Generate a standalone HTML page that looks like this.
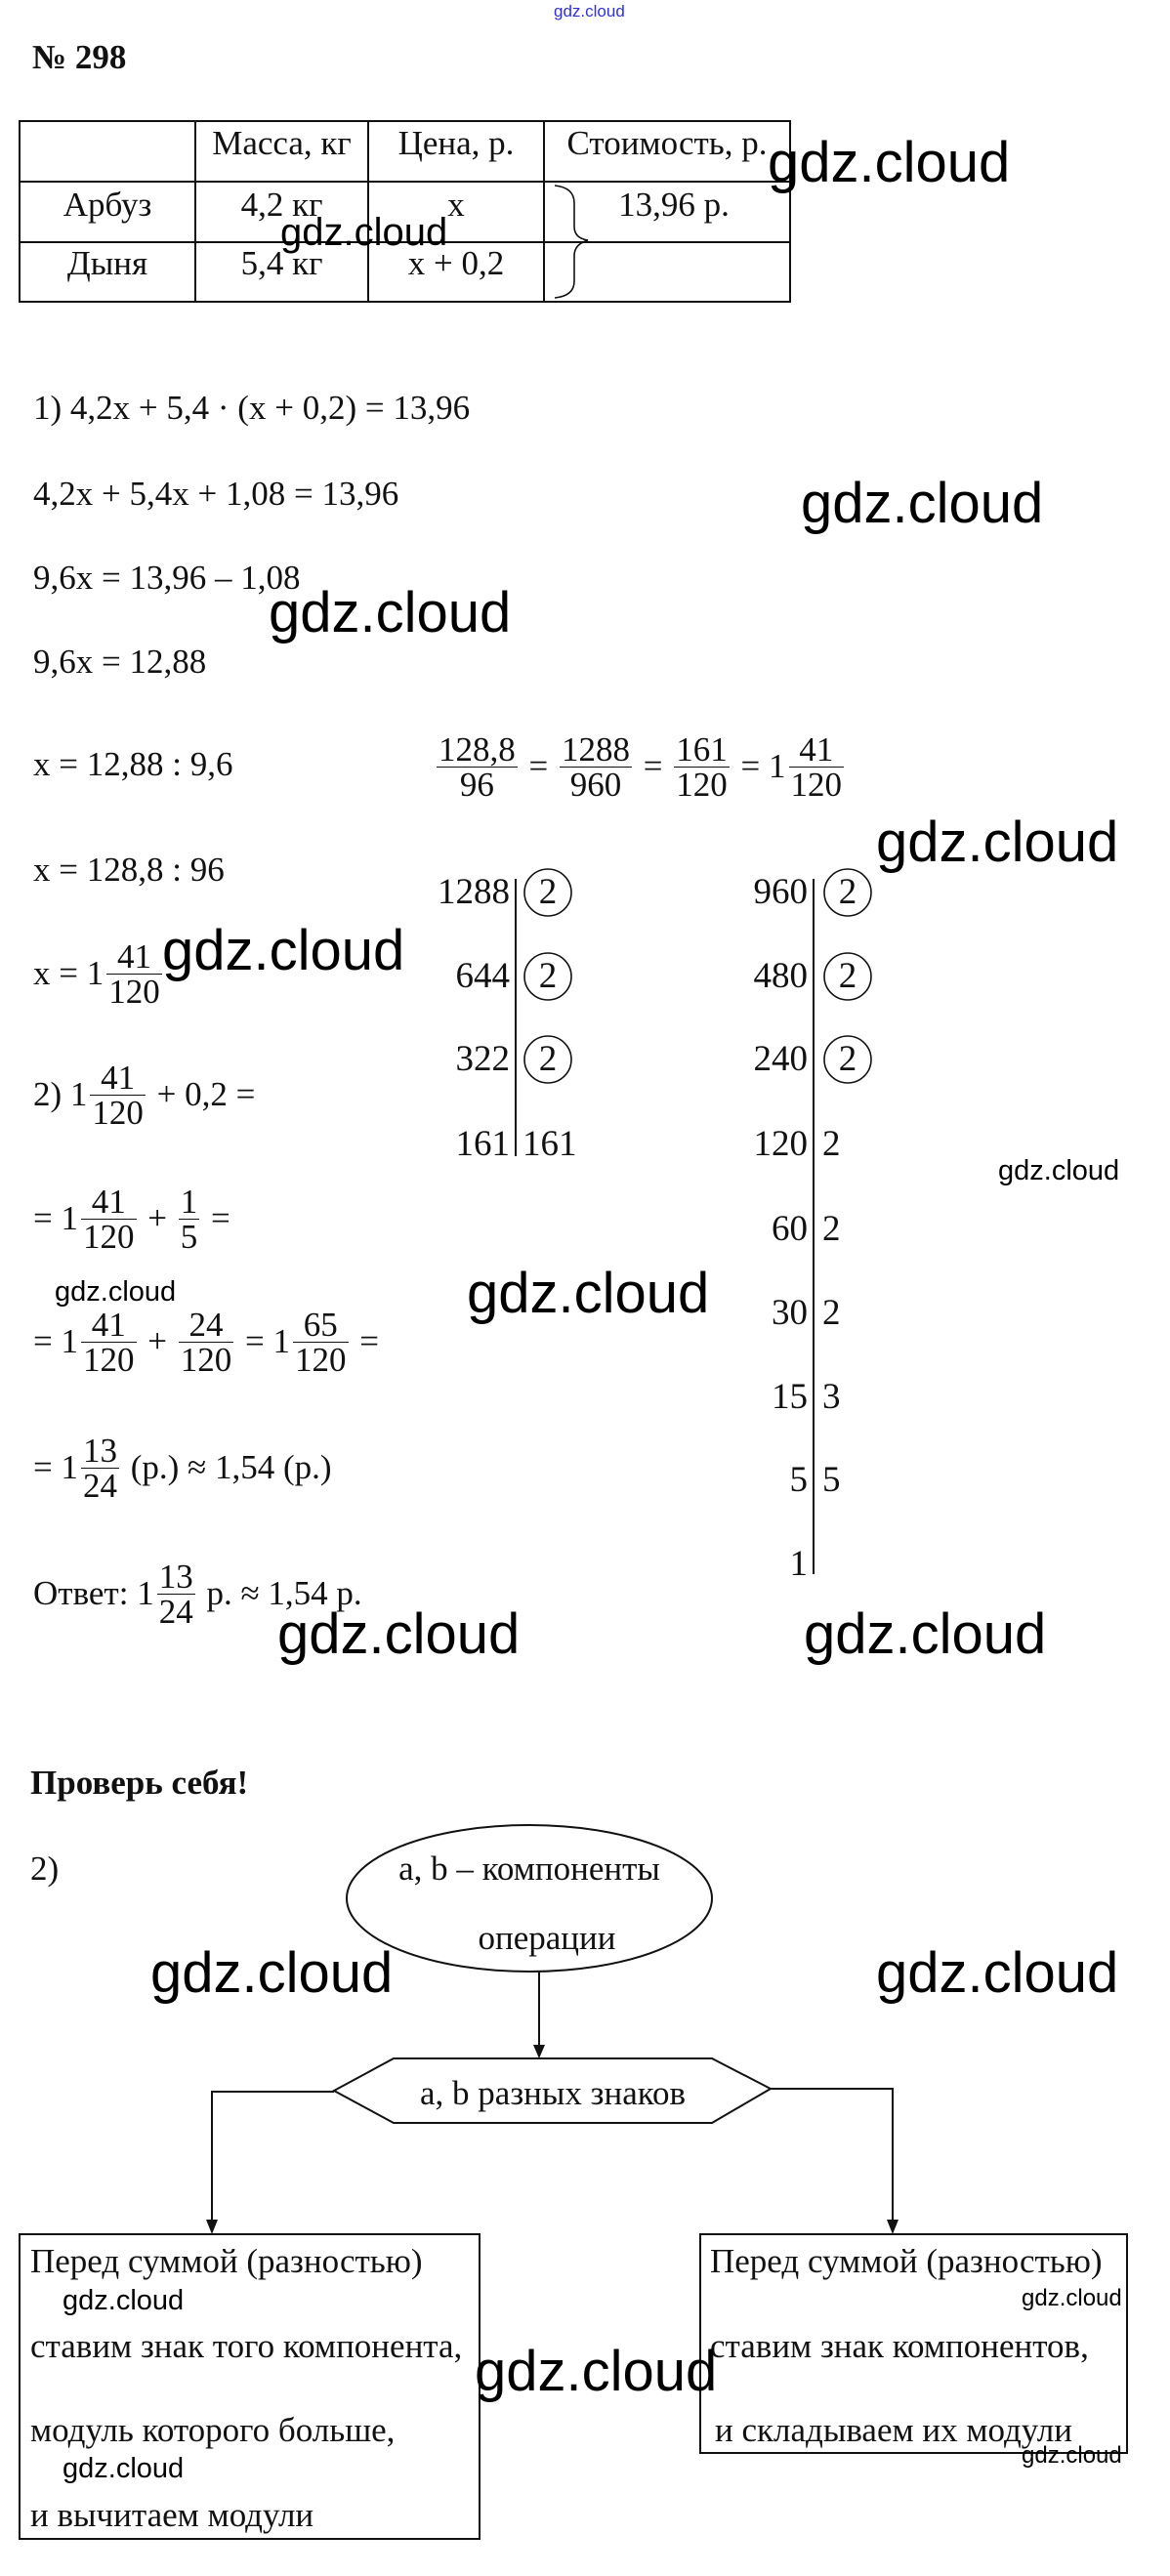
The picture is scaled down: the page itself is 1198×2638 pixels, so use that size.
<!DOCTYPE html>
<html><head><meta charset="utf-8">
<style>
html,body{margin:0;padding:0;background:#fff}
body{width:1198px;height:2638px;position:relative;overflow:hidden;font-family:"Liberation Serif",serif;color:#111}
.t{position:absolute;font-size:35px;line-height:40px;white-space:nowrap}
.b{font-weight:bold}
.w{position:absolute;font-family:"Liberation Sans",sans-serif;line-height:1;white-space:nowrap;color:#000}
.fr{display:inline-block;vertical-align:middle;text-align:center;margin:0 3px}
.fr span{display:block;line-height:35px;padding:0 2px}
.fr span.d{border-top:1.6px solid #111}
.ln{position:absolute;display:flex;align-items:center;font-size:35px;white-space:nowrap;height:80px}
.n{position:absolute;font-size:37px;line-height:40px;text-align:right;width:90px}
.c{text-align:center}
</style></head><body>
<svg width="1198" height="2638" style="position:absolute;left:0;top:0" xmlns="http://www.w3.org/2000/svg">
<g stroke="#111" stroke-width="2" fill="none">
<rect x="20" y="124" width="789" height="185"/>
<line x1="20" y1="186" x2="809" y2="186"/>
<line x1="20" y1="248" x2="809" y2="248"/>
<line x1="200" y1="124" x2="200" y2="309"/>
<line x1="377" y1="124" x2="377" y2="309"/>
<line x1="557" y1="124" x2="557" y2="309"/>
<path d="M568 190 Q588 192 588 208 L588 232 Q588 244 602 246 Q588 250 588 262 L588 288 Q588 303 568 305" stroke-width="1.6"/>
<line x1="528" y1="900" x2="528" y2="1184"/>
<line x1="833" y1="900" x2="833" y2="1612"/>
<circle cx="561" cy="914" r="24" stroke-width="1.6"/>
<circle cx="561" cy="1000" r="24" stroke-width="1.6"/>
<circle cx="561" cy="1085" r="24" stroke-width="1.6"/>
<circle cx="868" cy="914" r="24" stroke-width="1.6"/>
<circle cx="868" cy="1000" r="24" stroke-width="1.6"/>
<circle cx="868" cy="1085" r="24" stroke-width="1.6"/>
<ellipse cx="542" cy="1944" rx="187" ry="75"/>
<line x1="552" y1="2019" x2="552" y2="2096"/>
<polygon points="342,2141 403,2108 729,2108 789,2139 729,2174 403,2174"/>
<polyline points="342,2142 217,2142 217,2275"/>
<polyline points="789,2139 914,2139 914,2275"/>
<rect x="20" y="2288" width="471" height="312"/>
<rect x="717" y="2288" width="437" height="224"/>
</g>
<g fill="#111">
<polygon points="546,2094 558,2094 552,2108"/>
<polygon points="211,2273 223,2273 217,2288"/>
<polygon points="908,2273 920,2273 914,2288"/>
</g>
</svg>

<div class="w" style="left:567px;top:3px;font-size:17px;color:#33c">gdz.cloud</div>
<div class="t b" style="left:33px;top:39px">№ 298</div>

<div class="t c" style="left:200px;top:127px;width:177px">Масса, кг</div>
<div class="t c" style="left:377px;top:127px;width:180px">Цена, р.</div>
<div class="t c" style="left:557px;top:127px;width:252px">Стоимость, р.</div>
<div class="t c" style="left:20px;top:190px;width:180px">Арбуз</div>
<div class="t c" style="left:200px;top:190px;width:177px">4,2 кг</div>
<div class="t c" style="left:377px;top:190px;width:180px">x</div>
<div class="t c" style="left:580px;top:190px;width:220px">13,96 р.</div>
<div class="t c" style="left:20px;top:250px;width:180px">Дыня</div>
<div class="t c" style="left:200px;top:250px;width:177px">5,4 кг</div>
<div class="t c" style="left:377px;top:250px;width:180px">x + 0,2</div>

<div class="t" style="left:34px;top:398px">1) 4,2x + 5,4 · (x + 0,2) = 13,96</div>
<div class="t" style="left:34px;top:486px">4,2x + 5,4x + 1,08 = 13,96</div>
<div class="t" style="left:34px;top:572px">9,6x = 13,96 – 1,08</div>
<div class="t" style="left:34px;top:658px">9,6x = 12,88</div>
<div class="t" style="left:34px;top:763px">x = 12,88 : 9,6</div>
<div class="t" style="left:34px;top:871px">x = 128,8 : 96</div>

<div class="ln" style="left:34px;top:957px">x = 1<span class="fr"><span>41</span><span class="d">120</span></span></div>
<div class="ln" style="left:34px;top:1081px">2) 1<span class="fr"><span>41</span><span class="d">120</span></span>&nbsp;+ 0,2 =</div>
<div class="ln" style="left:34px;top:1208px">= 1<span class="fr"><span>41</span><span class="d">120</span></span>&nbsp;+&nbsp;<span class="fr"><span>1</span><span class="d">5</span></span>&nbsp;=</div>
<div class="ln" style="left:34px;top:1334px">= 1<span class="fr"><span>41</span><span class="d">120</span></span>&nbsp;+&nbsp;<span class="fr"><span>24</span><span class="d">120</span></span>&nbsp;= 1<span class="fr"><span>65</span><span class="d">120</span></span>&nbsp;=</div>
<div class="ln" style="left:34px;top:1463px">= 1<span class="fr"><span>13</span><span class="d">24</span></span>&nbsp;(р.) ≈ 1,54 (р.)</div>
<div class="ln" style="left:34px;top:1592px">Ответ: 1<span class="fr"><span>13</span><span class="d">24</span></span>&nbsp;р. ≈ 1,54 р.</div>

<div class="ln" style="left:444px;top:745px;font-size:35px"><span class="fr"><span>128,8</span><span class="d">96</span></span>&nbsp;=&nbsp;<span class="fr"><span>1288</span><span class="d">960</span></span>&nbsp;=&nbsp;<span class="fr"><span>161</span><span class="d">120</span></span>&nbsp;= 1<span class="fr"><span>41</span><span class="d">120</span></span></div>

<div class="n" style="left:432px;top:894px">1288</div>
<div class="n" style="left:432px;top:980px">644</div>
<div class="n" style="left:432px;top:1065px">322</div>
<div class="n" style="left:432px;top:1152px">161</div>
<div class="n" style="left:549px;top:894px;width:24px;text-align:center">2</div>
<div class="n" style="left:549px;top:980px;width:24px;text-align:center">2</div>
<div class="n" style="left:549px;top:1065px;width:24px;text-align:center">2</div>
<div class="n" style="left:535px;top:1152px;text-align:left">161</div>

<div class="n" style="left:737px;top:894px">960</div>
<div class="n" style="left:737px;top:980px">480</div>
<div class="n" style="left:737px;top:1065px">240</div>
<div class="n" style="left:737px;top:1152px">120</div>
<div class="n" style="left:737px;top:1239px">60</div>
<div class="n" style="left:737px;top:1325px">30</div>
<div class="n" style="left:737px;top:1411px">15</div>
<div class="n" style="left:737px;top:1496px">5</div>
<div class="n" style="left:737px;top:1582px">1</div>
<div class="n" style="left:856px;top:894px;width:24px;text-align:center">2</div>
<div class="n" style="left:856px;top:980px;width:24px;text-align:center">2</div>
<div class="n" style="left:856px;top:1065px;width:24px;text-align:center">2</div>
<div class="n" style="left:842px;top:1152px;text-align:left">2</div>
<div class="n" style="left:842px;top:1239px;text-align:left">2</div>
<div class="n" style="left:842px;top:1325px;text-align:left">2</div>
<div class="n" style="left:842px;top:1411px;text-align:left">3</div>
<div class="n" style="left:842px;top:1496px;text-align:left">5</div>

<div class="t b" style="left:31px;top:1806px">Проверь себя!</div>
<div class="t" style="left:31px;top:1894px">2)</div>
<div class="t c" style="left:355px;top:1894px;width:374px">a, b – компоненты</div>
<div class="t c" style="left:450px;top:1965px;width:220px">операции</div>
<div class="t c" style="left:403px;top:2124px;width:326px">a, b разных знаков</div>

<div class="t" style="left:31px;top:2296px">Перед суммой (разностью)</div>
<div class="t" style="left:31px;top:2383px">ставим знак того компонента,</div>
<div class="t" style="left:31px;top:2469px">модуль которого больше,</div>
<div class="t" style="left:31px;top:2556px">и вычитаем модули</div>
<div class="t" style="left:727px;top:2296px">Перед суммой (разностью)</div>
<div class="t" style="left:727px;top:2383px">ставим знак компонентов,</div>
<div class="t" style="left:732px;top:2469px">и складываем их модули</div>

<div class="w" style="left:786px;top:138px;font-size:58px">gdz.cloud</div>
<div class="w" style="left:287px;top:218px;font-size:40px">gdz.cloud</div>
<div class="w" style="left:820px;top:487px;font-size:58px">gdz.cloud</div>
<div class="w" style="left:275px;top:599px;font-size:58px">gdz.cloud</div>
<div class="w" style="left:897px;top:834px;font-size:58px">gdz.cloud</div>
<div class="w" style="left:166px;top:945px;font-size:58px">gdz.cloud</div>
<div class="w" style="left:1022px;top:1185px;font-size:29px">gdz.cloud</div>
<div class="w" style="left:56px;top:1309px;font-size:29px">gdz.cloud</div>
<div class="w" style="left:478px;top:1296px;font-size:58px">gdz.cloud</div>
<div class="w" style="left:284px;top:1645px;font-size:58px">gdz.cloud</div>
<div class="w" style="left:823px;top:1645px;font-size:58px">gdz.cloud</div>
<div class="w" style="left:154px;top:1992px;font-size:58px">gdz.cloud</div>
<div class="w" style="left:897px;top:1992px;font-size:58px">gdz.cloud</div>
<div class="w" style="left:486px;top:2400px;font-size:58px">gdz.cloud</div>
<div class="w" style="left:64px;top:2342px;font-size:29px">gdz.cloud</div>
<div class="w" style="left:64px;top:2514px;font-size:29px">gdz.cloud</div>
<div class="w" style="left:1046px;top:2342px;font-size:24px">gdz.cloud</div>
<div class="w" style="left:1046px;top:2503px;font-size:24px">gdz.cloud</div>
</body></html>
